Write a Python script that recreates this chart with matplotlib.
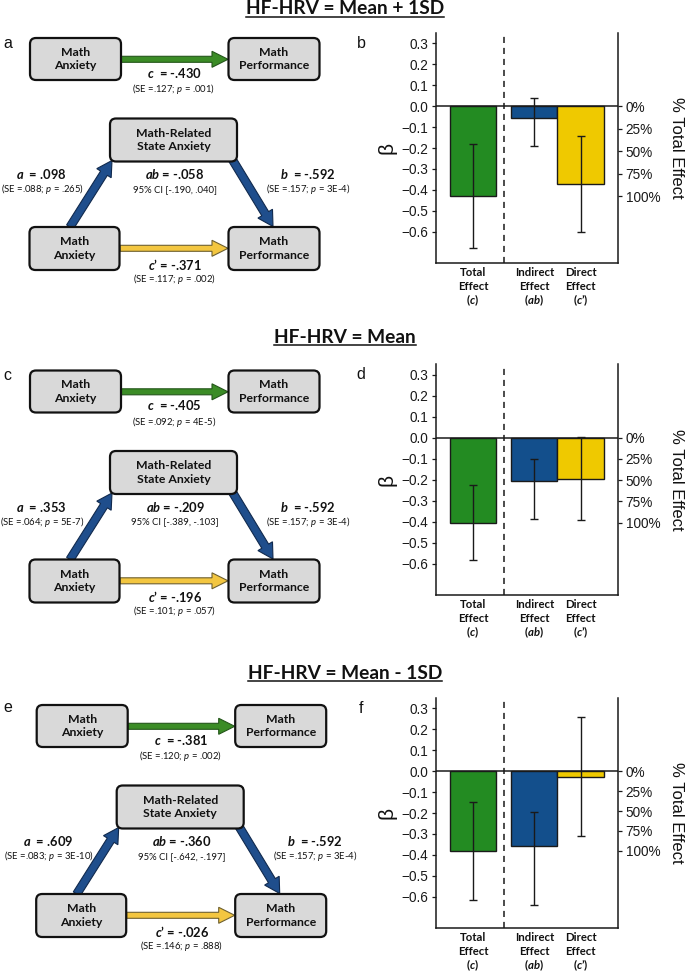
import matplotlib
matplotlib.use("Agg")
import matplotlib.pyplot as plt
from matplotlib.patches import FancyBboxPatch, FancyArrow
import numpy as np

plt.rcParams['mathtext.fontset'] = 'custom'
plt.rcParams['mathtext.rm'] = 'Lato'
plt.rcParams['mathtext.it'] = 'Lato:italic'
plt.rcParams['mathtext.bf'] = 'Lato:bold'
plt.rcParams['mathtext.bfit'] = 'Lato:bold:italic'

# ---------------- data ----------------
conditions = ["HF-HRV = Mean + 1SD", "HF-HRV = Mean", "HF-HRV = Mean - 1SD"]
diagram_letters = ["a", "c", "e"]
bar_letters = ["b", "d", "f"]
effect_labels = ["Total\nEffect\n($\\mathbfit{c}$)",
                 "Indirect\nEffect\n($\\mathbfit{ab}$)",
                 "Direct\nEffect\n($\\mathbfit{c}$’)"]

total_c = [-0.430, -0.405, -0.381]
indirect_ab = [-0.058, -0.209, -0.360]
direct_cp = [-0.371, -0.196, -0.026]
total_lo = [-0.679, -0.585, -0.616]
total_hi = [-0.181, -0.225, -0.146]
indirect_lo = [-0.190, -0.389, -0.642]
indirect_hi = [0.040, -0.103, -0.197]
direct_lo = [-0.600, -0.394, -0.312]
direct_hi = [-0.142, 0.002, 0.260]

a_coef = [0.098, 0.353, 0.609]
a_se = [".088", ".064", ".083"]
a_p = [".265", "5E-7", "3E-10"]
b_coef = [-0.592, -0.592, -0.592]
b_se = [".157", ".157", ".157"]
b_p = ["3E-4", "3E-4", "3E-4"]
c_se = [".127", ".092", ".120"]
c_p = [".001", "4E-5", ".002"]
cp_se = [".117", ".101", ".146"]
cp_p = [".002", ".057", ".888"]
ab_ci = ["[-.190, .040]", "[-.389, -.103]", "[-.642, -.197]"]

percent_ticks = [0, 25, 50, 75, 100]
beta_ticks = [-0.6, -0.5, -0.4, -0.3, -0.2, -0.1, 0.0, 0.1, 0.2, 0.3]

# ---------------- styles ----------------
BAR_COLORS = ["#238b22", "#134f8c", "#efc900"]
EDGE = "#1a1a1a"
DFONT = "Lato"
AFONT = "Liberation Sans"


def fmt(v):
    s = f"{abs(v):.3f}"[1:]
    return ("-" if v < 0 else "") + s


W, H = 685, 972
fig = plt.figure(figsize=(W / 100, H / 100), dpi=100)
dax = fig.add_axes([0, 0, 1, 1])
dax.set_xlim(0, W)
dax.set_ylim(H, 0)
dax.axis("off")


def box(x, y, w, h, text):
    p = FancyBboxPatch((x, y), w, h, boxstyle="round,pad=0,rounding_size=6",
                       fc="#d9d9d9", ec="#111111", lw=1.6, zorder=3)
    dax.add_patch(p)
    dax.text(x + w / 2, y + h / 2, text, ha="center", va="center",
             fontsize=8.8, fontweight="bold", family=DFONT, linespacing=1.25,
             zorder=4, color="#111111")


def arrow(x0, y0, x1, y1, fc, ec, width, hw, hl):
    a = FancyArrow(x0, y0, x1 - x0, y1 - y0, width=width, head_width=hw,
                   head_length=hl, length_includes_head=True, fc=fc, ec=ec,
                   lw=0.8, zorder=2)
    dax.add_patch(a)


def label(x, y, s, bold=True, size=9.3):
    dax.text(x, y, s, ha="center", va="center", fontsize=size,
             fontweight="bold" if bold else "normal", family=DFONT, color="#111111")


SMALL = 6.8
diag_offsets = [(0, 0), (0, 332.5), (6.7, 667)]
for i, (ox, oy) in enumerate(diag_offsets):
    # top (total effect) model
    box(ox + 30, oy + 38, 91, 42, "Math\nAnxiety")
    box(ox + 228.5, oy + 38, 91, 42, "Math\nPerformance")
    arrow(ox + 121, oy + 59.3, ox + 228, oy + 59.3, "#3b8c26", "#24561a", 6, 16, 16)
    label(ox + 174, oy + 72.5, f"$\\mathbfit{{c}}$  = {fmt(total_c[i])}")
    label(ox + 174, oy + 89, f"(SE ={c_se[i]}; $p$ = {c_p[i]})", bold=False, size=SMALL)
    # mediation model
    box(ox + 110, oy + 118.5, 127, 43, "Math-Related\nState Anxiety")
    box(ox + 29.5, oy + 227, 90, 43, "Math\nAnxiety")
    box(ox + 228.5, oy + 227, 91, 43, "Math\nPerformance")
    arrow(ox + 70, oy + 227, ox + 112, oy + 160.5, "#1f4e8c", "#10294d", 8, 17, 15)
    arrow(ox + 232, oy + 159, ox + 273, oy + 226.5, "#1f4e8c", "#10294d", 8, 17, 15)
    arrow(ox + 120, oy + 248.3, ox + 228, oy + 248.3, "#f3c640", "#6e6030", 6, 16, 16)
    label(ox + 41, oy + 174, f"$\\mathbfit{{a}}$  = {fmt(a_coef[i])}")
    label(ox + 42.5, oy + 189.3, f"(SE ={a_se[i]}; $p$ = {a_p[i]})", bold=False, size=SMALL)
    label(ox + 175, oy + 174, f"$\\mathbfit{{ab}}$ = {fmt(indirect_ab[i])}")
    label(ox + 175, oy + 189.3, f"95% CI {ab_ci[i]}", bold=False, size=SMALL)
    label(ox + 308, oy + 174, f"$\\mathbfit{{b}}$  = {fmt(b_coef[i])}")
    label(ox + 308, oy + 189.3, f"(SE ={b_se[i]}; $p$ = {b_p[i]})", bold=False, size=SMALL)
    label(ox + 175, oy + 264, f"$\\mathbfit{{c}}$’ = {fmt(direct_cp[i])}")
    label(ox + 175, oy + 278.5, f"(SE ={cp_se[i]}; $p$ = {cp_p[i]})", bold=False, size=SMALL)
    dax.text(3, oy + 43 - (3 if i == 2 else 0), diagram_letters[i], ha="left", va="center",
             fontsize=11.5, family=AFONT, color="#111111")

# titles with underline
title_base = [14.5, 342.5, 679]
renderer = fig.canvas.get_renderer()
for i, t in enumerate(conditions):
    tx = dax.text(345, title_base[i], t, ha="center", va="baseline", fontsize=13.8,
                  fontweight="bold", family=DFONT, color="#111111")
    bb = tx.get_window_extent(renderer)
    (x0, _), (x1, _) = dax.transData.inverted().transform([[bb.x0, bb.y0], [bb.x1, bb.y1]])
    dax.plot([x0, x1], [title_base[i] + 2.3, title_base[i] + 2.3], color="#111111", lw=1.1)

# ---------------- bar panels ----------------
pos = [0, 1.33, 2.33]
tops = [33, 364, 698]
bots = [263, 595, 928]
left_px, right_px = 435.5, 618
PX = 72 / 100  # points per pixel
for i in range(3):
    rect = [left_px / W, 1 - bots[i] / H, (right_px - left_px) / W, (bots[i] - tops[i]) / H]
    ax = fig.add_axes(rect)
    vals = np.array([total_c[i], indirect_ab[i], direct_cp[i]])
    lo = np.array([total_lo[i], indirect_lo[i], direct_lo[i]])
    hi = np.array([total_hi[i], indirect_hi[i], direct_hi[i]])
    ax.axhline(0, color=EDGE, lw=1.1, zorder=1)
    ax.bar(pos, vals, width=1.0, color=BAR_COLORS, edgecolor=EDGE, linewidth=1.0, zorder=2)
    ax.errorbar(pos, vals, yerr=[vals - lo, hi - vals], fmt="none", ecolor=EDGE,
                elinewidth=1.0, capsize=2.6, capthick=1.0, zorder=3)
    ax.axvline(0.665, color=EDGE, lw=1.1, ls=(0, (4, 3.2)), zorder=1)
    ax.set_xlim(-0.81, 3.14)
    ax.set_ylim(-0.75, 0.35)
    ax.spines["top"].set_visible(False)
    ax.spines["right"].set_visible(False)
    for s in ["left", "bottom"]:
        ax.spines[s].set_linewidth(1.1)
        ax.spines[s].set_color(EDGE)
    ax.set_yticks(beta_ticks)
    ax.set_yticklabels([f"{t:.1f}".replace("-", "\u2212") for t in beta_ticks],
                       family=AFONT, fontsize=9.8)
    ax.tick_params(axis="y", direction="out", length=3, width=0.9, pad=2, colors=EDGE)
    ax.set_xticks(pos)
    ax.set_xticklabels([""] * len(pos))
    ax.tick_params(axis="x", length=0)
    for p, lab in zip(pos, effect_labels):
        for j, line in enumerate(lab.split("\n")):
            ax.annotate(line, xy=(p, 0), xycoords=("data", "axes fraction"),
                        xytext=(0, -(13 + 14 * j) * PX), textcoords="offset points",
                        ha="center", va="baseline", fontsize=8.2, fontweight="bold",
                        family=DFONT, color="#111111", annotation_clip=False)
    ax.patch.set_alpha(0)

    ax2 = ax.twinx()
    ax2.set_ylim(-0.75, 0.35)
    for s in ["top", "left", "bottom"]:
        ax2.spines[s].set_visible(False)
    ax2.spines["right"].set_linewidth(1.1)
    ax2.spines["right"].set_color(EDGE)
    ax2.set_yticks([total_c[i] * p / 100 for p in percent_ticks])
    ax2.set_yticklabels([f"{p}%" for p in percent_ticks], family=AFONT, fontsize=9.8)
    ax2.tick_params(axis="y", direction="out", length=3, width=0.9, pad=2.5, colors=EDGE)

    cy = (tops[i] + bots[i]) / 2
    dax.text(387, cy, "β", rotation=90, ha="center", va="center", fontsize=15,
             family=AFONT, color="#111111")
    dax.text(677, cy, "% Total Effect", rotation=270, ha="center", va="center",
             fontsize=12, family=AFONT, color="#111111")
    dax.text(361, tops[i] + 10, bar_letters[i], ha="center", va="center",
             fontsize=11.5, family=AFONT, color="#111111")

fig.savefig("out.png", dpi=100)
